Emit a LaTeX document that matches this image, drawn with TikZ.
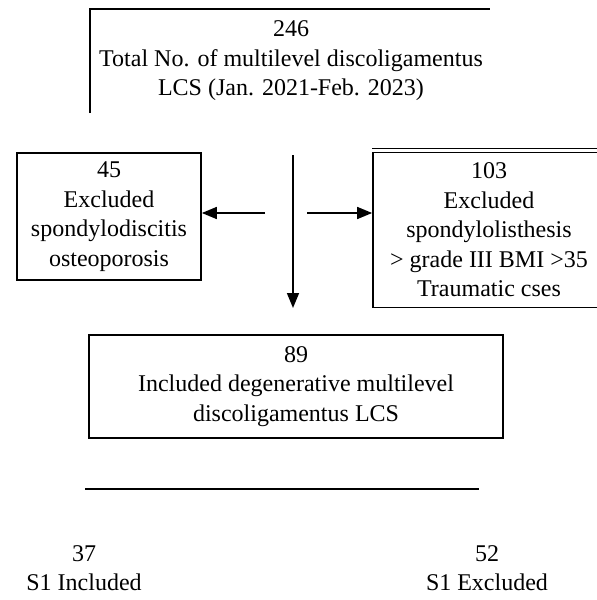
\documentclass[tikz,border=0pt]{standalone}
\usepackage{fontspec}
\setmainfont{Liberation Serif}
\usetikzlibrary{arrows.meta}
\begin{document}
\begin{tikzpicture}[x=1pt,y=-1pt,
  txt/.style={align=center,font=\fontsize{24}{29.5}\selectfont,inner sep=0pt},
  boxA/.style={draw,line width=1.7pt,txt},
  frame/.style={line width=1.7pt},
  conn/.style={line width=1.6pt,-{Triangle[length=15pt,width=12pt]}}]
\useasboundingbox (0,0) rectangle (597,600);
\clip (0,0) rectangle (597,600);
% top box (only top and left edges drawn)
\node[txt] (top) at (291,61) {246\\Total No. of multilevel discoligamentus\\LCS (Jan. 2021-Feb. 2023)};
\coordinate (tl) at (90,9);
\coordinate (tr) at (490,9);
\coordinate (tb) at (90,113);
\draw[frame] (tb) -- (tl) -- (tr);
% excluded boxes
\node[boxA,minimum width=184pt,minimum height=127pt] (left) at (109,216.5) {45\\Excluded\\spondylodiscitis\\osteoporosis};
\node[boxA,minimum width=232pt,minimum height=155pt] (right) at (489,230) {103\\Excluded\\spondylolisthesis\\> grade III BMI >35\\Traumatic cses};
\draw[line width=1.2pt] ([yshift=3pt]right.north west) -- ([yshift=3pt]right.north east);
% arrows
\coordinate (vs) at (293,155);
\coordinate (ve) at (293,308);
\draw[conn] (vs) -- (ve);
\coordinate (ls) at (265,213);
\draw[conn] (ls) -- (ls -| left.east);
\coordinate (rs) at (307,213);
\draw[conn] (rs) -- (rs -| right.west);
% included box
\node[boxA,minimum width=414pt,minimum height=103pt] (inc) at (296,386.5) {89\\Included degenerative multilevel\\discoligamentus LCS};
% split line
\coordinate (h1) at (85,489);
\coordinate (h2) at (479,489);
\draw[frame] (h1) -- (h2);
% bottom labels
\node[txt] (s1in) at (84,568) {37\\S1 Included};
\node[txt] (s1ex) at (487,568) {52\\S1 Excluded};
\end{tikzpicture}
\end{document}
